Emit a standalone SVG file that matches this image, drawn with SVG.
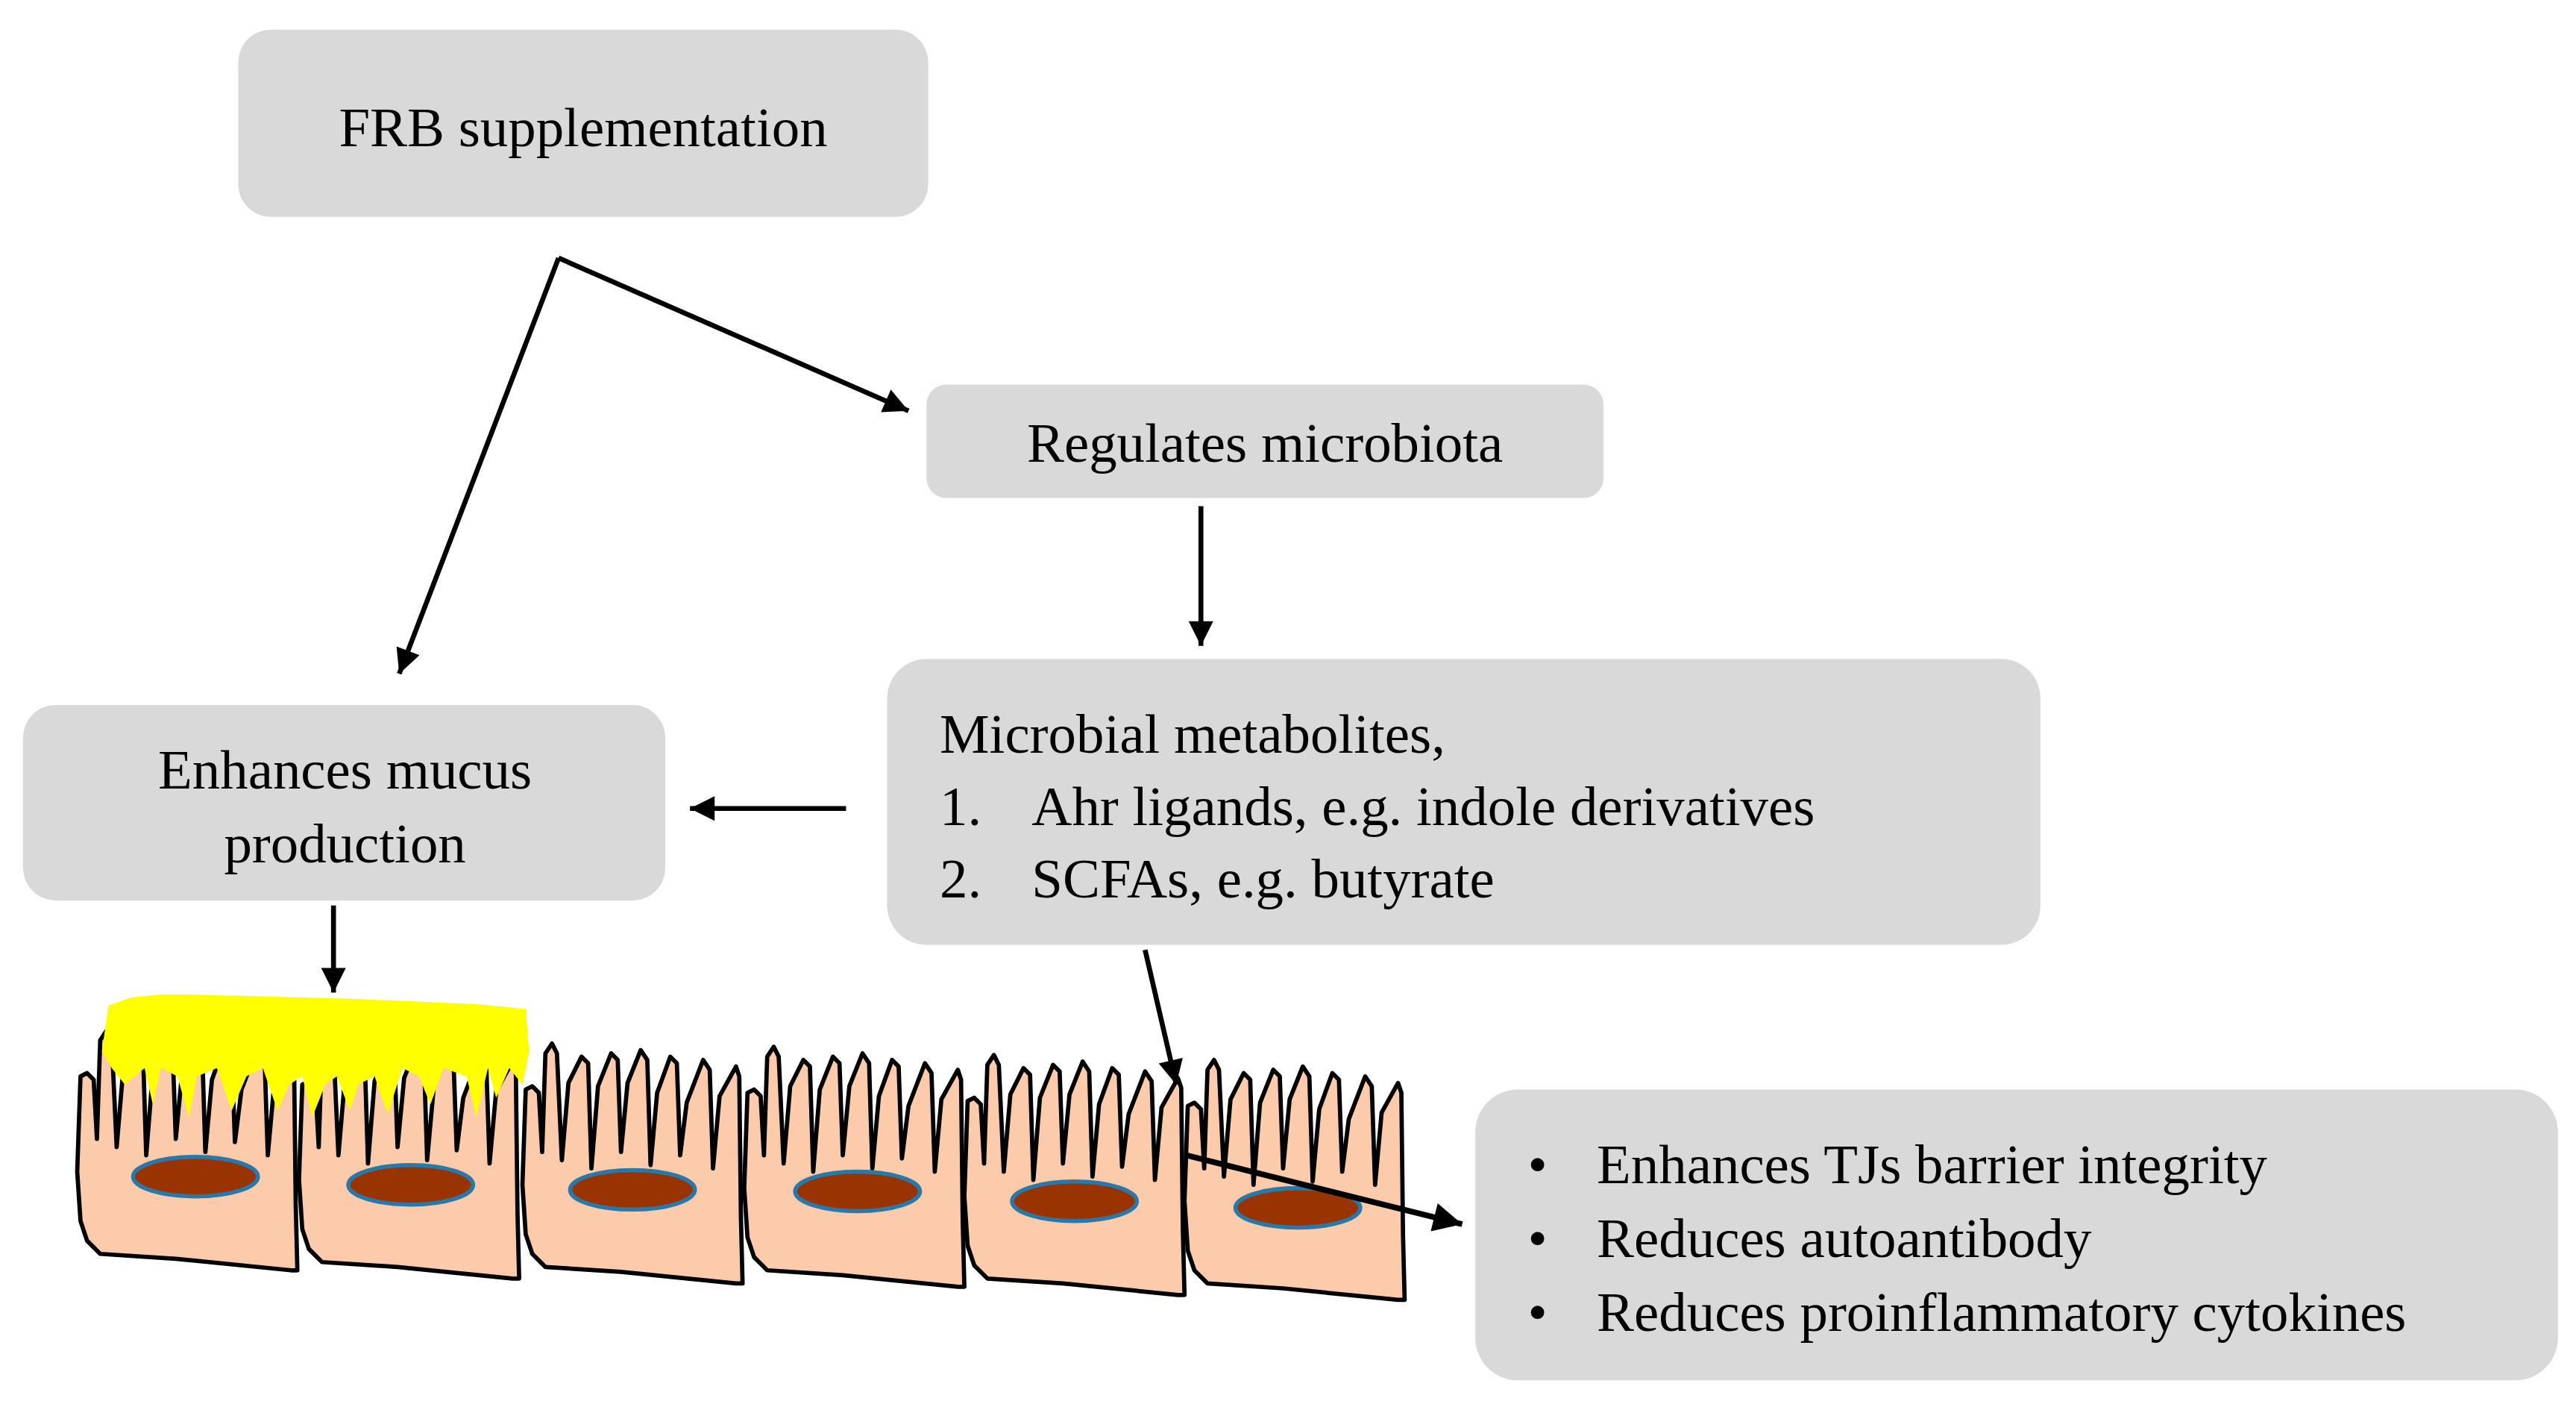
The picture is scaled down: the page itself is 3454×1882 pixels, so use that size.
<svg xmlns="http://www.w3.org/2000/svg" width="3454" height="1882" viewBox="0 0 3454 1882">
<style>
.box{fill:#d9d9d9;stroke:none}
.t{font-family:"Liberation Serif","Times New Roman",serif;font-size:34px;fill:#000}
.c{text-anchor:middle}
.con{stroke:#000;stroke-width:3;fill:none;marker-end:url(#ah)}
.cell{fill:#fccbab;stroke:#000;stroke-width:2.6;stroke-linejoin:round}
.nuc{fill:#993300;stroke:#2a78a8;stroke-width:2.5}
</style>
<defs>
<marker id="ah" viewBox="0 0 10 10" refX="10" refY="5" markerWidth="6" markerHeight="5" orient="auto" markerUnits="strokeWidth">
<path d="M0,0 L10,5 L0,10 z" fill="#000"/>
</marker>
<path id="cellshape" d="M2,32 L6,30 L10,34 L12,70 L14,10 L18,4 L21,10 L24,75 L28,28 L36,12 L40,16 L42,80 L46,30 L54,10 L58,14 L60,70 L64,28 L72,8 L76,14 L78,78 L82,34 L90,12 L94,16 L96,72 L100,40 L110,14 L114,20 L116,80 L120,36 L130,18 L132,24 L133,110 L134,150 L130,150 L60,143 L14,140 L6,132 L2,120 L0,90 Z"/>
</defs>
<rect width="3454" height="1882" fill="#fff"/>
<g transform="scale(2.2028)">
<g id="cells">
<use href="#cellshape" class="cell" transform="translate(47,623)"/>
<use href="#cellshape" class="cell" transform="translate(182,628)"/>
<use href="#cellshape" class="cell" transform="translate(318,631)"/>
<use href="#cellshape" class="cell" transform="translate(453,633)"/>
<use href="#cellshape" class="cell" transform="translate(587,638)"/>
<use href="#cellshape" class="cell" transform="translate(721,641)"/>
<ellipse class="nuc" cx="119" cy="716" rx="38" ry="12"/>
<ellipse class="nuc" cx="250" cy="721" rx="38" ry="12"/>
<ellipse class="nuc" cx="385" cy="724" rx="38" ry="12"/>
<ellipse class="nuc" cx="522" cy="725" rx="38" ry="12"/>
<ellipse class="nuc" cx="654" cy="731" rx="38" ry="12"/>
<ellipse class="nuc" cx="790" cy="735" rx="38" ry="12"/>
</g>
<g id="mucus">
<path fill="#ffff00" d="M66,612 L80,607 L100,605 L150,606 L220,608 L290,611 L320,614 L322,640 L318,660 L310,650 L302,668 L297,650 L290,680 L284,655 L270,650 L262,672 L255,655 L245,650 L236,678 L228,655 L218,660 L213,676 L205,655 L198,660 L190,680 L184,655 L176,660 L169,676 L160,650 L150,655 L141,676 L132,650 L120,655 L115,680 L108,655 L98,650 L93,672 L88,650 L76,660 L68,650 L62,640 Z"/>
</g>
<g id="n-frb">
<rect class="box" x="145" y="18" width="420" height="114" rx="20"/>
<text class="t c" x="355" y="89">FRB supplementation</text>
</g>
<g id="n-regulates">
<rect class="box" x="564" y="234" width="412" height="69" rx="12"/>
<text class="t c" x="770" y="281">Regulates microbiota</text>
</g>
<g id="n-metabolites">
<rect class="box" x="540" y="401" width="702" height="174" rx="24"/>
<text class="t" x="572" y="458">Microbial metabolites,</text>
<text class="t" x="572" y="502">1.</text>
<text class="t" x="628" y="502">Ahr ligands, e.g. indole derivatives</text>
<text class="t" x="572" y="546">2.</text>
<text class="t" x="628" y="546">SCFAs, e.g. butyrate</text>
</g>
<g id="n-mucus">
<rect class="box" x="14" y="429" width="391" height="119" rx="20"/>
<text class="t c" x="210" y="480">Enhances mucus</text>
<text class="t c" x="210" y="525">production</text>
</g>
<g id="n-effects">
<rect class="box" x="898" y="663" width="659" height="177" rx="26"/>
<text class="t" x="930" y="720">•</text>
<text class="t" x="972" y="720">Enhances TJs barrier integrity</text>
<text class="t" x="930" y="765">•</text>
<text class="t" x="972" y="765">Reduces autoantibody</text>
<text class="t" x="930" y="810">•</text>
<text class="t" x="972" y="810">Reduces proinflammatory cytokines</text>
</g>
<g id="connectors">
<path class="con" d="M340,157 L553,250"/>
<path class="con" d="M340,157 L243,410"/>
<path class="con" d="M731,308 L731,393"/>
<path class="con" d="M515,492 L420,492"/>
<path class="con" d="M203,551 L203,604"/>
<path class="con" d="M697,578 L716,660"/>
<path class="con" d="M722,703 L890,745" style="stroke-width:3.5"/>
</g>
</g>
</svg>
